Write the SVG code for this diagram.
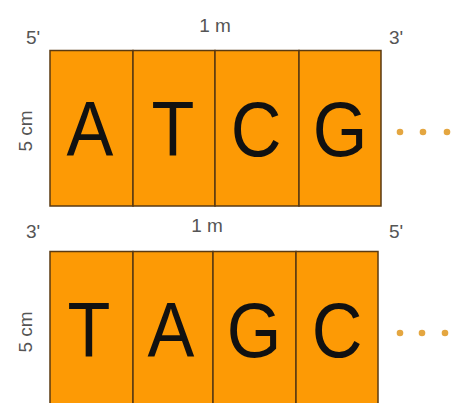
<svg xmlns="http://www.w3.org/2000/svg" width="451" height="403" viewBox="0 0 451 403">
<style>
.cell{fill:#fd9a05;stroke:#5a3a12;stroke-width:1.5}
.lbl{font-family:"Liberation Sans",Arial,sans-serif;font-size:19px;fill:#555}
.big{font-family:"Liberation Sans",Arial,sans-serif;font-size:78px;fill:#111;text-anchor:middle}
.dot{fill:#e4a640}
</style>
<rect width="451" height="403" fill="#fff"/>
<g id="strand1">
<rect class="cell" x="50" y="50.5" width="83" height="155.5"/>
<rect class="cell" x="133" y="50.5" width="82" height="155.5"/>
<rect class="cell" x="215" y="50.5" width="84" height="155.5"/>
<rect class="cell" x="299" y="50.5" width="82" height="155.5"/>
<text class="big" transform="translate(90,156) scale(0.9,1)">A</text>
<text class="big" transform="translate(173,156) scale(0.9,1)">T</text>
<text class="big" transform="translate(256,156) scale(0.9,1)">C</text>
<text class="big" transform="translate(340,156) scale(0.9,1)">G</text>
<text class="lbl" x="215" y="32" text-anchor="middle">1 m</text>
<text class="lbl" x="26" y="44">5'</text>
<text class="lbl" x="389" y="44">3'</text>
<text class="lbl" transform="translate(32,131) rotate(-90)" text-anchor="middle">5 cm</text>
<circle class="dot" cx="400" cy="132" r="3.3"/>
<circle class="dot" cx="423" cy="132" r="3.3"/>
<circle class="dot" cx="447" cy="132" r="3.3"/>
</g>
<g id="strand2">
<rect class="cell" x="50" y="251.5" width="83" height="160"/>
<rect class="cell" x="133" y="251.5" width="80" height="160"/>
<rect class="cell" x="213" y="251.5" width="83" height="160"/>
<rect class="cell" x="296" y="251.5" width="82" height="160"/>
<text class="big" transform="translate(89,357) scale(0.9,1)">T</text>
<text class="big" transform="translate(171,357) scale(0.9,1)">A</text>
<text class="big" transform="translate(254,357) scale(0.9,1)">G</text>
<text class="big" transform="translate(337,357) scale(0.9,1)">C</text>
<text class="lbl" x="207" y="232" text-anchor="middle">1 m</text>
<text class="lbl" x="26" y="238">3'</text>
<text class="lbl" x="389" y="238">5'</text>
<text class="lbl" transform="translate(32,332) rotate(-90)" text-anchor="middle">5 cm</text>
<circle class="dot" cx="400" cy="333" r="3.3"/>
<circle class="dot" cx="422" cy="333" r="3.3"/>
<circle class="dot" cx="445" cy="333" r="3.3"/>
</g>
<g id="connectors"/>
</svg>
